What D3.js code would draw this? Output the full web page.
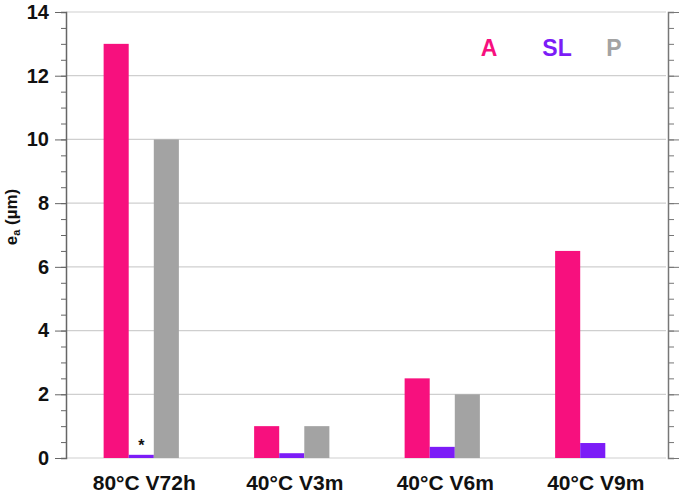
<!DOCTYPE html>
<html>
<head>
<meta charset="utf-8">
<script src="https://cdn.jsdelivr.net/npm/d3@7"></script>
<style>
  html, body { margin: 0; padding: 0; background: #fff; }
  svg { display: block; }
  text { font-family: "Liberation Sans", Arial, sans-serif; font-weight: bold; }
</style>
</head>
<body>
<svg id="chart" width="685" height="495"></svg>
<script>
const categories = ["80°C V72h", "40°C V3m", "40°C V6m", "40°C V9m"];
const seriesNames = ["A", "SL", "P"];
const valuesA  = [13, 1.0, 2.5, 6.5];
const valuesSL = [0.1, 0.15, 0.35, 0.47];
const valuesP  = [10, 1.0, 2.0, 0];
const seriesColors = ["#f7107e", "#7c1cf7", "#a3a3a3"];
const yMajorTicks = [0, 2, 4, 6, 8, 10, 12, 14];
const yLabel = "e";
const yLabelSub = "a";
const yLabelRest = " (µm)";
const noteText = "*";

const seriesValues = [valuesA, valuesSL, valuesP];

const svg = d3.select("#chart");
const m = { left: 66, right: 668, top: 12, bottom: 458 };

const x0 = d3.scaleBand().domain(categories).range([m.left, m.right]).padding(0);
const x1 = d3.scaleBand().domain(seriesNames).range([0, x0.bandwidth()]).paddingInner(0).paddingOuter(1.5);
const y = d3.scaleLinear().domain([0, 14]).range([m.bottom, m.top]);

// gridlines
svg.append("g")
  .selectAll("line")
  .data(yMajorTicks)
  .join("line")
  .attr("x1", m.left).attr("x2", m.right - 2)
  .attr("y1", d => y(d)).attr("y2", d => y(d))
  .attr("stroke", "#cfcfcf").attr("stroke-width", 1.2);

// bars
const data = [];
categories.forEach((c, i) => {
  seriesNames.forEach((s, j) => {
    data.push({ cat: c, ser: s, v: seriesValues[j][i], color: seriesColors[j] });
  });
});
svg.append("g")
  .selectAll("rect")
  .data(data.filter(d => d.v > 0))
  .join("rect")
  .attr("x", d => x0(d.cat) + x1(d.ser))
  .attr("width", x1.bandwidth())
  .attr("y", d => y(d.v))
  .attr("height", d => y(0) - y(d.v))
  .attr("fill", d => d.color);

// asterisk
svg.append("text")
  .attr("x", x0(categories[0]) + x1("SL") + x1.bandwidth() / 2)
  .attr("y", y(0) - 7)
  .attr("text-anchor", "middle")
  .attr("font-size", 16)
  .attr("fill", "#111")
  .text(noteText);

// left axis
const minorTicks = d3.range(0, 14.01, 0.5);
const leftAxis = d3.axisLeft(y).tickValues(minorTicks).tickSize(5).tickFormat("");
const gl = svg.append("g").attr("transform", `translate(${m.left},0)`).call(leftAxis);
gl.selectAll("line").attr("stroke", "#666");
gl.select(".domain").attr("stroke", "#666").attr("stroke-width", 1.5);
const leftMajor = d3.axisLeft(y).tickValues(yMajorTicks).tickSize(11).tickPadding(6).tickFormat(d3.format("d"));
const glm = svg.append("g").attr("transform", `translate(${m.left},0)`).call(leftMajor);
glm.select(".domain").remove();
glm.selectAll("line").attr("stroke", "#666");
glm.selectAll("text").attr("font-size", 20).attr("fill", "#111")
  .style("font-family", "'Liberation Sans', Arial, sans-serif").style("font-weight", "bold");

// right axis
const rightAxis = d3.axisRight(y).tickValues(minorTicks).tickSize(6).tickFormat("");
const gr = svg.append("g").attr("transform", `translate(${m.right},0)`).call(rightAxis);
gr.selectAll("line").attr("stroke", "#777");
gr.select(".domain").attr("stroke", "#777").attr("stroke-width", 1.5);
const rightMajor = d3.axisRight(y).tickValues(yMajorTicks).tickSize(11).tickFormat("");
const grm = svg.append("g").attr("transform", `translate(${m.right},0)`).call(rightMajor);
grm.select(".domain").remove();
grm.selectAll("line").attr("stroke", "#777");

// x labels
svg.append("g")
  .selectAll("text")
  .data(categories)
  .join("text")
  .attr("x", d => x0(d) + x0.bandwidth() / 2 + 3)
  .attr("y", 490)
  .attr("text-anchor", "middle")
  .attr("font-size", 21)
  .attr("fill", "#111")
  .text(d => d);

// y label
const yl = svg.append("text")
  .attr("transform", "translate(17,217) rotate(-90)")
  .attr("text-anchor", "middle")
  .attr("font-size", 17)
  .attr("fill", "#111");
yl.append("tspan").text(yLabel);
yl.append("tspan").attr("font-size", 11).attr("dy", 3).text(yLabelSub);
yl.append("tspan").attr("dy", -3).text(yLabelRest);

// legend
const legendX = [489, 557, 614];
svg.append("g")
  .selectAll("text")
  .data(seriesNames)
  .join("text")
  .attr("x", (d, i) => legendX[i])
  .attr("y", 56)
  .attr("text-anchor", "middle")
  .attr("font-size", 23)
  .attr("fill", (d, i) => seriesColors[i])
  .text(d => d);
</script>
</body>
</html>
